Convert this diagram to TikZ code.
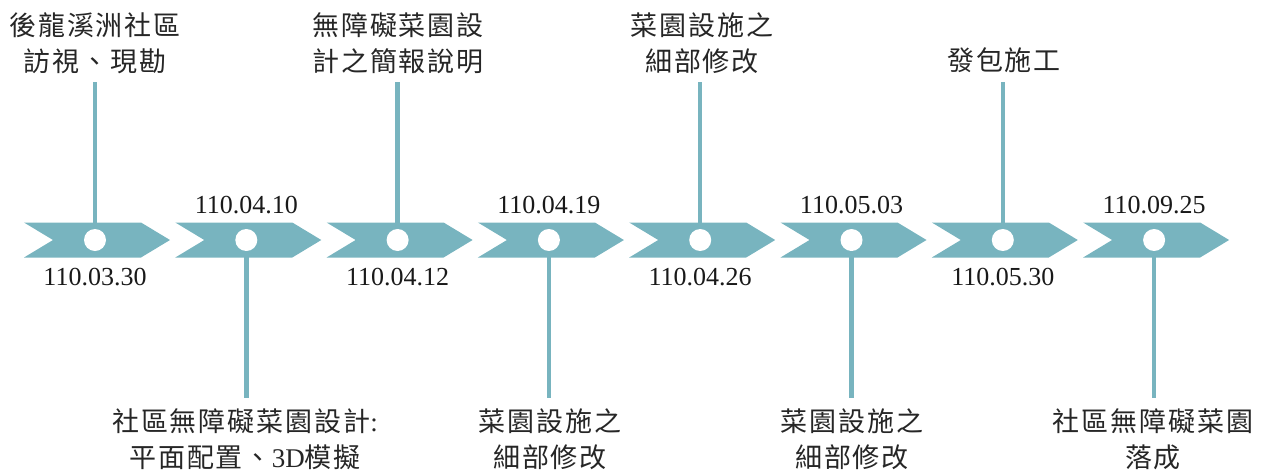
\documentclass[tikz,border=0pt]{standalone}
\usepackage{fontspec}
\setmainfont{Liberation Serif}
\newfontfamily\cjk[LetterSpace=7]{Noto Sans CJK TC}
\definecolor{teal1}{RGB}{120,180,191}
\begin{document}
\begin{tikzpicture}[x=1pt,y=-1pt,
  dot/.style={circle,fill=white,draw=none,minimum size=22pt,inner sep=0pt},
  datelbl/.style={font=\fontsize{26}{30}\selectfont,inner sep=0pt,text=black!90},
  cjklbl/.style={font=\cjk\fontsize{27}{36}\selectfont,align=center,inner sep=0pt,text=black!85},
  stem/.style={draw=teal1,line width=4.5pt},
  chev/.style={fill=teal1,draw=none}]
\useasboundingbox (0,0) rectangle (1268,472);
% chevrons
\foreach \i in {0,...,7}{
  \pgfmathsetmacro{\cx}{95+151.3*\i}
  \fill[chev] (\cx-71,222.5) -- (\cx+46,222.5) -- (\cx+75,240) -- (\cx+46,257.5) -- (\cx-71,257.5) -- (\cx-42,240) -- cycle;
}
% circles
\node[dot] (c0) at (95,240) {};
\node[dot] (c1) at (246.3,240) {};
\node[dot] (c2) at (397.6,240) {};
\node[dot] (c3) at (548.9,240) {};
\node[dot] (c4) at (700.2,240) {};
\node[dot] (c5) at (851.5,240) {};
\node[dot] (c6) at (1002.8,240) {};
\node[dot] (c7) at (1154.1,240) {};
% dates
\node[datelbl] (d0) at (95,277) {110.03.30};
\node[datelbl] (d1) at (246.3,205) {110.04.10};
\node[datelbl] (d2) at (397.6,277) {110.04.12};
\node[datelbl] (d3) at (548.9,205) {110.04.19};
\node[datelbl] (d4) at (700.2,277) {110.04.26};
\node[datelbl] (d5) at (851.5,205) {110.05.03};
\node[datelbl] (d6) at (1002.8,277) {110.05.30};
\node[datelbl] (d7) at (1154.1,205) {110.09.25};
% top labels
\node[cjklbl] (t0) at (95,43) {後龍溪洲社區\\訪視、現勘};
\node[cjklbl] (t2) at (398,43) {無障礙菜園設\\計之簡報說明};
\node[cjklbl] (t4) at (702,43) {菜園設施之\\細部修改};
\node[cjklbl] (t6) at (1004,60) {發包施工};
% bottom labels
\node[cjklbl] (b1) at (245,439) {社區無障礙菜園設計{\rmfamily :}\\平面配置、{\rmfamily 3D}模擬};
\node[cjklbl] (b3) at (550,439) {菜園設施之\\細部修改};
\node[cjklbl] (b5) at (852,439) {菜園設施之\\細部修改};
\node[cjklbl] (b7) at (1153,439) {社區無障礙菜園\\落成};
% stems
\coordinate (e0) at (95,82);
\coordinate (e2) at (397.6,82);
\coordinate (e4) at (700.2,82);
\coordinate (e6) at (1002.8,82);
\coordinate (f1) at (246.3,398);
\coordinate (f3) at (548.9,398);
\coordinate (f5) at (851.5,398);
\coordinate (f7) at (1154.1,398);
\foreach \a/\b in {c0/e0,c2/e2,c4/e4,c6/e6}{\draw[stem] (\a.north) -- (\b);}
\foreach \a/\b in {c1/f1,c3/f3,c5/f5,c7/f7}{\draw[stem] (\a.south) -- (\b);}
\end{tikzpicture}
\end{document}
